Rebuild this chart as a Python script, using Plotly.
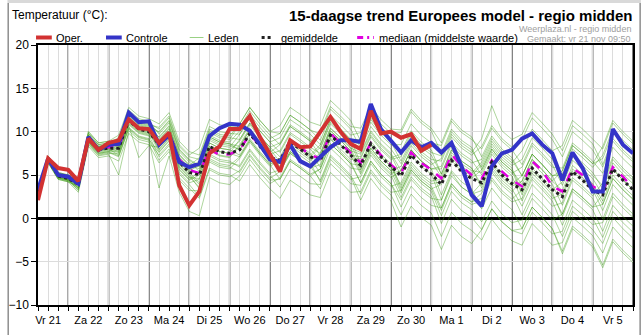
import plotly.graph_objects as go

# ---------------- data ----------------
day_labels = ["Vr 21", "Za 22", "Zo 23", "Ma 24", "Di 25", "Wo 26", "Do 27", "Vr 28",
              "Za 29", "Zo 30", "Ma 1", "Di 2", "Wo 3", "Do 4", "Vr 5"]
steps = list(range(60))  # 6-hourly steps starting vr 21 06:00

oper = [2.1, 6.9, 5.8, 5.6, 4.3, 9.2, 7.9, 8.7, 9.0, 11.4,
        10.4, 10.3, 8.7, 9.9, 3.8, 1.5, 3.1, 7.5, 8.3, 10.3,
        10.3, 11.8, 9.4, 7.4, 5.4, 9.0, 8.2, 8.3, 10.0, 11.7,
        10.0, 8.6, 8.0, 12.4, 9.8, 10.0, 9.3, 9.7, 7.8, 8.5]

controle = [3.3, 6.9, 5.0, 4.8, 4.0, 9.4, 7.9, 8.5, 8.6, 12.2,
            11.1, 11.2, 8.5, 9.6, 6.5, 5.9, 6.3, 9.5, 10.4, 10.9,
            10.8, 10.1, 8.5, 6.8, 6.5, 8.5, 6.6, 6.0, 7.1, 8.2,
            9.0, 9.0, 8.8, 13.2, 10.3, 9.0, 7.6, 9.0, 8.2, 8.7,
            7.6, 8.7, 6.0, 2.7, 1.4, 6.0, 7.5, 7.9, 9.2, 9.8,
            8.5, 7.5, 4.4, 7.6, 5.8, 3.1, 3.1, 10.3, 8.5, 7.5]

gemiddelde = [3.0, 6.8, 4.9, 4.6, 3.9, 9.2, 7.9, 8.1, 8.1, 11.3,
              10.3, 10.0, 8.5, 9.8, 6.5, 5.3, 5.0, 8.3, 7.7, 7.5,
              7.9, 9.8, 8.3, 7.0, 6.7, 8.8, 8.0, 7.1, 6.7, 9.6,
              8.5, 7.3, 6.1, 8.6, 7.1, 6.0, 4.9, 7.3, 6.0, 5.1,
              3.9, 6.7, 5.4, 4.6, 4.1, 6.5, 5.0, 4.0, 3.3, 5.8,
              4.6, 3.3, 2.5, 5.4, 4.4, 3.3, 2.7, 5.7, 4.4, 3.3]

mediaan = [3.1, 6.9, 5.0, 4.7, 4.0, 9.3, 8.0, 8.2, 8.2, 11.4,
           10.4, 10.1, 8.6, 9.9, 6.8, 5.6, 5.2, 8.0, 7.3, 7.4,
           7.9, 9.7, 8.4, 7.0, 6.6, 9.0, 8.2, 7.3, 6.9, 9.8,
           8.7, 7.5, 6.4, 8.7, 7.3, 6.2, 5.2, 7.6, 6.4, 5.6,
           4.6, 7.4, 6.0, 5.0, 4.6, 6.7, 5.4, 4.4, 3.7, 6.6,
           5.5, 3.7, 3.1, 5.8, 5.0, 3.7, 3.1, 5.9, 4.8, 3.5]

leden = [
    [3.2,7.0,5.1,4.8, 4.5,9.8,8.5,8.7, 9.1,12.3,11.3,11.0, 10.3,11.6,8.3,7.1, 6.8,10.1,9.5,9.3, 9.1,11.0,9.5,8.2, 7.1,9.2,8.4,7.5, 5.9,9.3,7.7,6.5, 4.1,6.6,5.1,4.0, 2.1,4.5,3.2,2.3, 2.1,5.3,3.6,2.8, 4.1,6.5,5.0,4.0, 4.9,7.4,6.2,4.9, 5.5,8.4,7.4,6.3, 6.9,9.9,8.6,7.5],
    [2.8,6.6,4.7,4.4, 3.5,8.8,7.5,7.7, 7.8,11.0,10.0,9.7, 8.8,10.1,6.8,5.6, 6.3,9.6,9.0,8.8, 10.1,12.0,10.5,9.2, 9.8,11.9,11.1,10.2, 9.7,12.6,11.5,10.3, 8.1,10.6,9.1,8.0, 6.3,8.7,7.4,6.5, 4.8,7.6,6.3,5.5, 5.3,7.7,6.2,5.2, 5.9,8.4,7.2,5.9, 5.8,8.7,7.7,6.6, 5.2,8.2,6.9,5.8],
    [3.4,7.2,5.3,5.0, 4.7,10.0,8.7,8.9, 9.6,12.8,11.8,11.5, 10.9,12.2,8.9,7.7, 7.3,10.6,10.0,9.8, 9.7,11.6,10.1,8.8, 7.6,9.7,8.9,8.0, 6.7,9.6,8.5,7.3, 5.1,7.6,6.1,5.0, 2.4,4.8,3.5,2.6, -0.6,2.2,0.9,0.1, -1.3,1.1,-0.4,-1.4, -1.8,0.7,-0.5,-1.8, -1.5,1.4,0.4,-0.7, -0.5,2.5,1.2,0.1],
    [2.6,6.4,4.5,4.2, 3.0,8.3,7.0,7.2, 6.6,9.8,8.8,8.5, 6.4,7.7,4.4,3.2, 3.2,6.5,5.9,5.7, 6.9,8.8,7.3,6.0, 6.7,8.8,8.0,7.1, 8.2,11.1,10.0,8.8, 8.6,11.1,9.6,8.5, 8.5,10.9,9.6,8.7, 8.4,11.2,9.9,9.1, 8.0,10.4,8.9,7.9, 6.2,8.7,7.5,6.2, 3.8,6.7,5.7,4.6, 2.7,5.7,4.4,3.3],
    [3.1,6.9,5.0,4.7, 3.9,9.2,7.9,8.1, 7.7,10.9,9.9,9.6, 7.1,8.4,5.1,3.9, 2.5,5.8,5.2,5.0, 4.3,6.2,4.7,3.4, 2.3,4.4,3.6,2.7, 2.4,5.3,4.2,3.0, 3.1,5.6,4.1,3.0, 3.2,5.6,4.3,3.4, 3.9,6.7,5.4,4.6, 5.6,8.0,6.5,5.5, 3.9,6.4,5.2,3.9, 1.5,4.4,3.4,2.3, -0.1,2.9,1.6,0.5],
    [2.9,6.7,4.8,4.5, 4.1,9.4,8.1,8.3, 8.8,12.0,11.0,10.7, 9.9,11.2,7.9,6.7, 5.9,9.2,8.6,8.4, 7.9,9.8,8.3,7.0, 5.6,7.7,6.9,6.0, 4.4,7.3,6.2,5.0, 2.8,5.3,3.8,2.7, 0.4,2.8,1.5,0.6, -2.1,0.7,-0.6,-1.4, -2.5,-0.1,-1.6,-2.6, -3.1,-0.6,-1.8,-3.1, -2.8,0.1,-0.9,-2.0, -4.0,-1.0,-2.3,-3.4],
    [3.3,7.1,5.2,4.9, 4.3,9.6,8.3,8.5, 8.2,11.4,10.4,10.1, 7.9,9.2,5.9,4.7, 4.6,7.9,7.3,7.1, 8.5,10.4,8.9,7.6, 8.5,10.6,9.8,8.9, 10.0,12.9,11.8,10.6, 10.4,12.9,11.4,10.3, 10.2,12.6,11.3,10.4, 8.7,11.5,10.2,9.4, 7.1,9.5,8.0,7.0, 4.9,7.4,6.2,4.9, 5.1,8.0,7.0,5.9, 7.3,10.3,9.0,7.9],
    [2.7,6.5,4.6,4.3, 3.6,8.9,7.6,7.8, 8.1,11.3,10.3,10.0, 9.0,10.3,7.0,5.8, 5.0,8.3,7.7,7.5, 7.1,9.0,7.5,6.2, 4.5,6.6,5.8,4.9, 3.4,6.3,5.2,4.0, 3.8,6.3,4.8,3.7, 4.1,6.5,5.2,4.3, 4.5,7.3,6.0,5.2, 6.5,8.9,7.4,6.4, 7.8,10.3,9.1,7.8, 8.4,11.3,10.3,9.2, 8.0,11.0,9.7,8.6],
    [3.0,6.8,4.9,4.6, 3.8,9.1,7.8,8.0, 7.3,10.5,9.5,9.2, 6.7,8.0,4.7,3.5, 2.3,5.6,5.0,4.8, 5.5,7.4,5.9,4.6, 5.4,7.5,6.7,5.8, 6.7,9.6,8.5,7.3, 7.1,9.6,8.1,7.0, 7.4,9.8,8.5,7.6, 7.2,10.0,8.7,7.9, 5.9,8.3,6.8,5.8, 3.0,5.5,4.3,3.0, 0.2,3.1,2.1,1.0, -1.5,1.5,0.2,-0.9],
    [3.2,7.0,5.1,4.8, 4.5,9.8,8.5,8.7, 9.3,12.5,11.5,11.2, 9.7,11.0,7.7,6.5, 5.4,8.7,8.1,7.9, 7.3,9.2,7.7,6.4, 6.3,8.4,7.6,6.7, 7.5,10.4,9.3,8.1, 7.6,10.1,8.6,7.5, 5.5,7.9,6.6,5.7, 2.7,5.5,4.2,3.4, 1.1,3.5,2.0,1.0, -1.2,1.3,0.1,-1.2, -3.8,-0.9,-1.9,-3.0, -5.4,-2.4,-3.7,-4.8],
    [2.9,6.7,4.8,4.5, 4.0,9.3,8.0,8.2, 8.5,11.7,10.7,10.4, 8.3,9.6,6.3,5.1, 3.9,7.2,6.6,6.4, 6.1,8.0,6.5,5.2, 5.6,7.7,6.9,6.0, 7.2,10.1,9.0,7.8, 7.4,9.9,8.4,7.3, 4.9,7.3,6.0,5.1, 2.1,4.9,3.6,2.8, 3.2,5.6,4.1,3.1, 4.3,6.8,5.6,4.3, 3.2,6.1,5.1,4.0, 2.0,5.0,3.7,2.6],
    [3.2,7.0,5.1,4.8, 4.0,9.3,8.0,8.2, 7.9,11.1,10.1,9.8, 9.1,10.4,7.1,5.9, 6.6,9.9,9.3,9.1, 10.9,12.8,11.3,10.0, 10.7,12.8,12.0,11.1, 10.7,13.6,12.5,11.3, 8.9,11.4,9.9,8.8, 6.6,9.0,7.7,6.8, 6.6,9.4,8.1,7.3, 8.3,10.7,9.2,8.2, 9.1,11.6,10.4,9.1, 7.1,10.0,9.0,7.9, 5.9,8.9,7.6,6.5],
    [2.8,6.6,4.7,4.4, 3.2,8.5,7.2,7.4, 5.0,10.1,9.1,8.8, 7.3,8.6,5.3,4.1, 4.5,7.8,7.2,7.0, 8.3,10.2,8.7,7.4, 7.8,9.9,9.1,8.2, 7.5,10.4,9.3,8.1, 5.6,8.1,6.6,5.5, 2.9,5.3,4.0,3.1, 0.3,3.1,1.8,1.0, -0.4,2.0,0.5,-0.5, -0.2,2.3,1.1,-0.2, 0.5,3.4,2.4,1.3, 1.6,4.6,3.3,2.2],
    [3.0,6.8,4.9,4.6, 4.3,9.6,8.3,8.5, 8.4,11.6,10.6,10.3, 8.0,9.3,6.0,4.8, 3.6,6.9,6.3,6.1, 7.1,9.0,7.5,6.2, 6.9,9.0,8.2,7.3, 8.5,11.4,10.3,9.1, 9.1,11.6,10.1,9.0, 7.7,10.1,8.8,7.9, 5.1,7.9,6.6,5.8, 3.5,5.9,4.4,3.4, 1.4,3.9,2.7,1.4, 1.8,4.7,3.7,2.6, 4.1,7.1,5.8,4.7],
    [3.0,6.8,4.9,4.6, 3.5,8.8,7.5,7.7, 7.2,10.4,9.4,9.1, 7.6,8.9,5.6,4.4, 5.0,8.3,7.7,7.5, 9.1,11.0,9.5,8.2, 8.7,10.8,10.0,9.1, 8.0,10.9,9.8,8.6, 6.1,8.6,7.1,6.0, 3.8,6.2,4.9,4.0, 4.2,7.0,5.7,4.9, 6.2,8.6,7.1,6.1, 6.8,9.3,8.1,6.8, 4.5,7.4,6.4,5.3, 3.4,6.4,5.1,4.0],
    [3.1,6.9,5.0,4.7, 4.3,9.6,8.3,8.5, 8.9,12.1,11.1,10.8, 10.5,11.8,8.5,7.3, 8.1,11.4,10.8,10.6, 10.5,12.4,10.9,9.6, 8.5,10.6,9.8,8.9, 7.2,10.1,9.0,7.8, 5.3,7.8,6.3,5.2, 5.5,7.9,6.6,5.7, 6.0,8.8,7.5,6.7, 5.0,7.4,5.9,4.9, 2.0,4.5,3.3,2.0, -0.8,2.1,1.1,0.0, -2.2,0.8,-0.5,-1.6],
    [2.8,6.6,4.7,4.4, 3.8,9.1,7.8,8.0, 8.3,11.5,10.5,10.2, 9.4,10.7,7.4,6.2, 5.7,9.0,8.4,8.2, 9.7,11.6,10.1,8.8, 9.3,11.4,10.6,9.7, 8.5,11.4,10.3,9.1, 6.4,8.9,7.4,6.3, 3.5,5.9,4.6,3.7, 1.2,4.0,2.7,1.9, 2.3,4.7,3.2,2.2, 3.3,5.8,4.6,3.3, 4.2,7.1,6.1,5.0, 3.8,6.8,5.5,4.4],
    [3.3,7.1,5.2,4.9, 4.2,9.5,8.2,8.4, 8.6,11.8,10.8,10.5, 8.5,9.8,6.5,5.3, 4.1,7.4,6.8,6.6, 5.9,7.8,6.3,5.0, 3.6,5.7,4.9,4.0, 3.9,6.8,5.7,4.5, 4.8,7.3,5.8,4.7, 5.5,7.9,6.6,5.7, 5.7,8.5,7.2,6.4, 6.8,9.2,7.7,6.7, 4.9,7.4,6.2,4.9, 2.5,5.4,4.4,3.3, 0.9,3.9,2.6,1.5],
    [3.0,6.8,4.9,4.6, 4.1,9.4,8.1,8.3, 8.0,11.2,10.2,9.9, 7.7,9.0,5.7,4.5, 5.4,8.7,8.1,7.9, 8.9,10.8,9.3,8.0, 6.5,8.6,7.8,6.9, 5.2,8.1,7.0,5.8, 5.6,8.1,6.6,5.5, 6.0,8.4,7.1,6.2, 6.9,9.7,8.4,7.6, 9.2,13.0,10.1,9.1, 9.7,12.2,11.0,9.7, 7.8,10.7,9.7,8.6, 6.2,9.2,7.9,6.8],
    [2.7,6.5,4.6,4.3, 3.3,8.6,7.3,7.5, 7.5,10.7,7.0,8.4, 8.2,9.5,6.2,5.0, 3.4,6.7,6.1,5.9, 5.3,7.2,5.7,4.4, 4.5,6.6,5.8,4.9, 5.7,8.6,7.5,6.3, 4.1,6.6,5.1,4.0, 1.3,3.7,2.4,1.5, 1.2,4.0,2.7,1.9, 2.9,5.3,3.8,2.8, 0.4,2.9,1.7,0.4, -2.1,0.8,-0.2,-1.3, -2.9,0.1,-1.2,-2.3],
    [3.4,7.2,5.3,5.0, 4.7,10.0,8.7,8.9, 8.7,11.9,10.9,10.6, 10.0,11.3,8.0,6.8, 6.1,9.4,8.8,8.6, 7.9,9.8,8.3,7.0, 5.4,7.5,6.7,5.8, 6.2,9.1,8.0,6.8, 6.9,9.4,7.9,6.8, 7.1,9.5,8.2,7.3, 5.1,7.9,6.6,5.8, 3.8,6.2,4.7,3.7, 4.3,6.8,5.6,4.3, 5.5,8.4,7.4,6.3, 8.3,11.3,10.0,8.9],
    [2.9,6.7,4.8,4.5, 3.4,8.7,7.4,7.6, 7.1,10.3,9.3,9.0, 3.5,7.2,3.0,0.8, 0.3,4.7,4.1,3.9, 4.9,6.8,5.3,4.0, 4.7,6.8,6.0,5.1, 5.7,8.6,7.5,6.3, 6.1,8.6,7.1,6.0, 3.2,5.6,4.3,3.4, 0.9,3.7,2.4,1.6, 2.0,4.4,2.9,1.9, 2.3,4.8,3.6,2.3, 2.8,5.7,4.7,3.6, 1.6,4.6,3.3,2.2],
    [3.1,6.8,5.0,4.7, 3.9,9.2,7.9,8.1, 9.0,12.2,11.2,10.9, 9.3,10.6,7.3,6.1, 7.0,10.3,9.7,9.5, 10.9,12.8,11.3,10.0, 9.8,11.9,11.1,10.2, 9.0,11.9,10.8,9.6, 9.9,12.4,10.9,9.8, 9.9,12.3,11.0,10.1, 7.5,10.3,9.0,8.2, 5.6,8.0,6.5,5.5, 2.7,5.2,4.0,2.7, 0.5,3.4,2.4,1.3, 2.7,5.7,4.4,3.3],
    [2.6,6.4,4.5,4.2, 3.7,9.0,7.7,7.9, 7.6,10.8,9.8,9.5, 8.7,10.0,6.7,5.5, 6.1,9.4,8.8,8.6, 8.3,10.2,8.7,7.4, 6.0,8.1,7.3,6.4, 4.2,7.1,6.0,4.8, 2.1,4.6,3.1,2.0, -1.0,1.4,0.1,-0.8, -3.6,-0.8,-2.1,-2.9, -1.3,1.1,-0.4,-1.4, -1.2,1.3,0.1,-1.2, -4.1,-1.2,-2.2,-3.3, -5.7,-2.7,-4.0,-5.1],
]

# ---------------- styling ----------------
W, H = 643, 335
ML, MR, MT, MB = 31, 8, 45, 30
PW, PH = W - ML - MR, H - MT - MB
FONT = "Liberation Sans, Arial, sans-serif"

RED = "#d23232"
BLUE = "#3434c8"
GREEN = "rgba(60,155,20,0.42)"
MAGENTA = "#e000e0"
BLACK = "#222222"


def px(x):
    return (x - ML) / PW


def py(y):
    return (H - MB - y) / PH


fig = go.Figure()
for m in leden:
    fig.add_trace(go.Scatter(x=steps[:len(m)], y=m, mode="lines",
                             line=dict(color=GREEN, width=1), hoverinfo="skip"))
fig.add_trace(go.Scatter(x=steps, y=mediaan, mode="lines",
                         line=dict(color=MAGENTA, width=2.5, dash="dash")))
fig.add_trace(go.Scatter(x=steps, y=gemiddelde, mode="lines",
                         line=dict(color=BLACK, width=3, dash="dot")))
fig.add_trace(go.Scatter(x=steps, y=controle, mode="lines",
                         line=dict(color=BLUE, width=4)))
fig.add_trace(go.Scatter(x=steps[:len(oper)], y=oper, mode="lines",
                         line=dict(color=RED, width=4)))

ticktext = [day_labels[(i - 1) // 4] if i % 4 == 1 else "" for i in steps]

shapes = []
# midnight separators
for i in steps:
    if i % 4 == 3:
        shapes.append(dict(type="line", xref="x", yref="paper", x0=i, x1=i, y0=0, y1=1,
                           line=dict(color="#555555", width=1.5), layer="below"))
# outer frame
shapes.append(dict(type="rect", xref="paper", yref="paper", x0=px(0), x1=px(W), y0=py(3), y1=py(0),
                   fillcolor="#d9d9d9", line=dict(width=0)))
shapes.append(dict(type="rect", xref="paper", yref="paper", x0=px(0), x1=px(1.5), y0=py(H), y1=py(3),
                   fillcolor="#8c8c8c", line=dict(width=0)))
shapes.append(dict(type="rect", xref="paper", yref="paper", x0=px(W - 1.5), x1=px(W), y0=py(H), y1=py(3),
                   fillcolor="#8c8c8c", line=dict(width=0)))

# legend samples
LY = py(37.5)
legend_items = [
    (29, 45, dict(color=RED, width=4), 48, "Oper."),
    (100, 116, dict(color=BLUE, width=4), 119, "Controle"),
    (185, 199, dict(color="rgba(110,190,80,0.7)", width=1), 203, "Leden"),
    (258, 268, dict(color=BLACK, width=3, dash="dot"), 277, "gemiddelde"),
    (355, 372, dict(color=MAGENTA, width=3, dash="6px,4px,2px,4px"), 376, "mediaan (middelste waarde)"),
]
annotations = []
for x0, x1, ln, tx, label in legend_items:
    shapes.append(dict(type="line", xref="paper", yref="paper", x0=px(x0), x1=px(x1), y0=LY, y1=LY, line=ln))
    annotations.append(dict(xref="paper", yref="paper", x=px(tx), y=LY, text=label, showarrow=False,
                            xanchor="left", yanchor="middle", borderpad=0,
                            font=dict(family=FONT, size=11, color="#000")))

annotations += [
    dict(xref="paper", yref="paper", x=px(4), y=py(15), text="Temperatuur (°C):", showarrow=False,
         xanchor="left", yanchor="middle", borderpad=0, font=dict(family=FONT, size=12, color="#000")),
    dict(xref="paper", yref="paper", x=px(635), y=py(15.5), text="<b>15-daagse trend Europees model - regio midden</b>",
         showarrow=False, xanchor="right", yanchor="middle", borderpad=0,
         font=dict(family=FONT, size=15, color="#000")),
    dict(xref="paper", yref="paper", x=px(634), y=py(28.5), text="Weerplaza.nl - regio midden", showarrow=False,
         xanchor="right", yanchor="middle", borderpad=0, font=dict(family=FONT, size=9, color="#a0a0a0")),
    dict(xref="paper", yref="paper", x=px(634), y=py(38.5), text="Gemaakt: vr 21 nov 09:50", showarrow=False,
         xanchor="right", yanchor="middle", borderpad=0, font=dict(family=FONT, size=9, color="#a0a0a0")),
]

fig.update_layout(
    width=W, height=H,
    margin=dict(l=ML, r=MR, t=MT, b=MB, pad=0),
    paper_bgcolor="white", plot_bgcolor="white",
    showlegend=False,
    shapes=shapes, annotations=annotations,
    font=dict(family=FONT, size=12, color="#000"),
    xaxis=dict(range=[0, 59], tickmode="array", tickvals=steps, ticktext=ticktext,
               ticks="outside", ticklen=4, tickcolor="#000", tickwidth=1,
               showgrid=True, gridcolor="#dcdcdc", gridwidth=1, zeroline=False,
               showline=True, linecolor="#000", linewidth=1.5, mirror=True,
               tickfont=dict(family=FONT, size=11, color="#000")),
    yaxis=dict(range=[-10, 20], tickmode="array", tickvals=[-10, -5, 0, 5, 10, 15, 20],
               ticks="outside", ticklen=5, tickcolor="#000", tickwidth=1,
               showgrid=True, gridcolor="#dcdcdc", gridwidth=1,
               zeroline=True, zerolinecolor="#000", zerolinewidth=3,
               showline=True, linecolor="#000", linewidth=1.5, mirror=True,
               tickfont=dict(family=FONT, size=12, color="#000")),
)

fig.write_html("out.html")
